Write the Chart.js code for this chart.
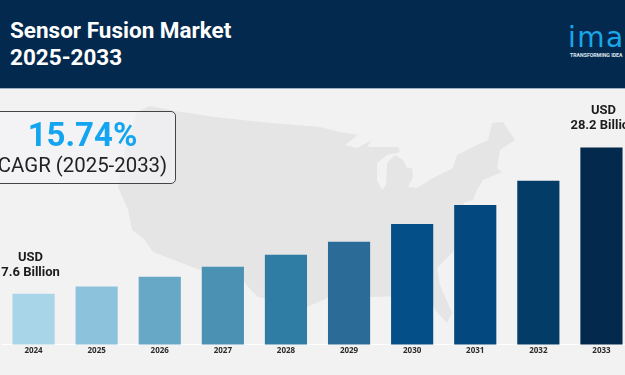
<!DOCTYPE html>
<html>
<head>
<meta charset="utf-8">
<title>Sensor Fusion Market 2025-2033</title>
<script src="https://cdn.jsdelivr.net/npm/chart.js@4"></script>
<style>
  html, body { margin: 0; padding: 0; }
  body { width: 625px; height: 375px; overflow: hidden; background: #f2f2f3; position: relative; font-family: Roboto, sans-serif; }
  .header { position: absolute; left: 0; top: 0; width: 625px; height: 88px; background: #032a4e; border-bottom: 1px solid #9fb0c6; overflow: hidden; }
  .title { position: absolute; left: 10px; top: 16.5px; color: #fff; font-weight: 700; font-size: 22.5px; line-height: 27px; white-space: nowrap; }
  .logo { position: absolute; left: 568px; top: 20px; color: #1ba6ea; font-family: "DejaVu Sans", sans-serif; font-size: 28px; line-height: 36px; letter-spacing: 1.5px; white-space: nowrap; }
  .tagline { position: absolute; left: 570px; top: 52px; color: #dfe8f0; font-size: 5.2px; line-height: 6px; font-weight: 700; white-space: nowrap; }
  #map { position: absolute; left: 0; top: 0; }
  #chartWrap { position: absolute; left: 0; top: 0; width: 625px; height: 375px; overflow: hidden; }
  .cagr { position: absolute; left: -6px; top: 111px; width: 180px; height: 71px; border: 1px solid #444; border-radius: 5px; background: rgba(244,244,245,.62); text-align: center; }
  .cagr .pct { position: absolute; left: 0; right: 5px; top: 5px; color: #14a5f0; font-weight: 700; font-size: 33px; line-height: 36px; white-space: nowrap; }
  .cagr .sub { position: absolute; left: 0; right: 5px; top: 41px; color: #222; font-size: 20.4px; line-height: 24px; white-space: nowrap; }
</style>
</head>
<body>
<svg id="map" width="625" height="375">
  <path fill="#e5e5e6" d="M150 106 L175 111 L215 117 L260 122 L320 127 L340 132 L358 135 L345 145 L357 148 L372 140 L367 147 L398 147 L400 152 L387 155 L377 163 L377 180 L382 190 L386 185 L387 163 L395 155 L403 160 L407 168 L412 168 L413 177 L408 187 L417 188 L433 178 L453 168 L457 155 L477 145 L488 140 L492 123 L503 122 L515 140 L500 150 L497 168 L502 172 L483 180 L477 190 L473 200 L463 203 L470 215 L465 235 L453 252 L437 268 L440 285 L452 313 L447 323 L435 310 L428 292 L400 296 L372 297 L340 290 L323 300 L307 307 L290 302 L275 300 L258 297 L248 287 L242 278 L200 270 L153 252 L143 238 L132 230 L128 210 L118 187 L125 150 L137 112 Z"/>
</svg>
<div id="chartWrap"><canvas id="marketChart" width="640" height="375"></canvas></div>
<div class="header">
  <div class="title">Sensor Fusion Market<br>2025-2033</div>
  <div class="logo">ima</div>
  <div class="tagline">TRANSFORMING IDEA</div>
</div>
<div class="cagr">
  <div class="pct">15.74%</div>
  <div class="sub">CAGR (2025-2033)</div>
</div>
<script>
// values, USD billion
const years = ['2024', '2025', '2026', '2027', '2028', '2029', '2030', '2031', '2032', '2033'];
const marketSize = [7.6, 8.6, 10.0, 11.4, 13.1, 14.9, 17.4, 20.1, 23.5, 28.2];
const barColors = ['#a9d5e8', '#8dc2dc', '#67a8c7', '#4a91b3', '#2f7da4', '#2a6c97', '#044f87', '#03497f', '#033c67', '#03294d'];
const firstLabel = ['USD', '7.6 Billion'];
const lastLabel = ['USD', '28.2 Billion'];

// USD callouts above the first and last bars
const calloutPlugin = {
  id: 'callouts',
  afterDatasetsDraw(chart) {
    const ctx = chart.ctx;
    const bars = chart.getDatasetMeta(0).data;
    const last = bars.length - 1;
    ctx.save();
    ctx.fillStyle = '#1c1c1c';
    ctx.font = '700 13px Roboto';
    ctx.textAlign = 'center';
    ctx.textBaseline = 'middle';
    ctx.fillText(firstLabel[0], bars[0].x - 3, bars[0].y - 36);
    ctx.fillText(firstLabel[1], bars[0].x - 3, bars[0].y - 21);
    ctx.fillText(lastLabel[0], bars[last].x + 2, bars[last].y - 37);
    ctx.fillText(lastLabel[1], bars[last].x + 2, bars[last].y - 22);
    ctx.restore();
  }
};

const config = {
  type: 'bar',
  data: {
    labels: years,
    datasets: [{
      label: 'Market size',
      data: marketSize,
      backgroundColor: barColors,
      borderWidth: 0,
      barThickness: 41.5
    }]
  },
  options: {
    responsive: false,
    animation: false,
    layout: { padding: { left: 2, right: 7, top: 135, bottom: 17 } },
    plugins: { legend: { display: false }, tooltip: { enabled: false } },
    scales: {
      x: {
        grid: { display: false, drawTicks: false },
        border: { color: '#ffffff', width: 1 },
        ticks: { color: '#2a2a2a', padding: 2, maxRotation: 0, autoSkip: false, font: { family: 'Open Sans', size: 8, weight: '700' } }
      },
      y: { display: false, min: 0.5, max: 30 }
    }
  },
  plugins: [calloutPlugin]
};

const ctx = document.getElementById('marketChart').getContext('2d');
const marketChart = new Chart(ctx, config);
</script>
</body>
</html>
